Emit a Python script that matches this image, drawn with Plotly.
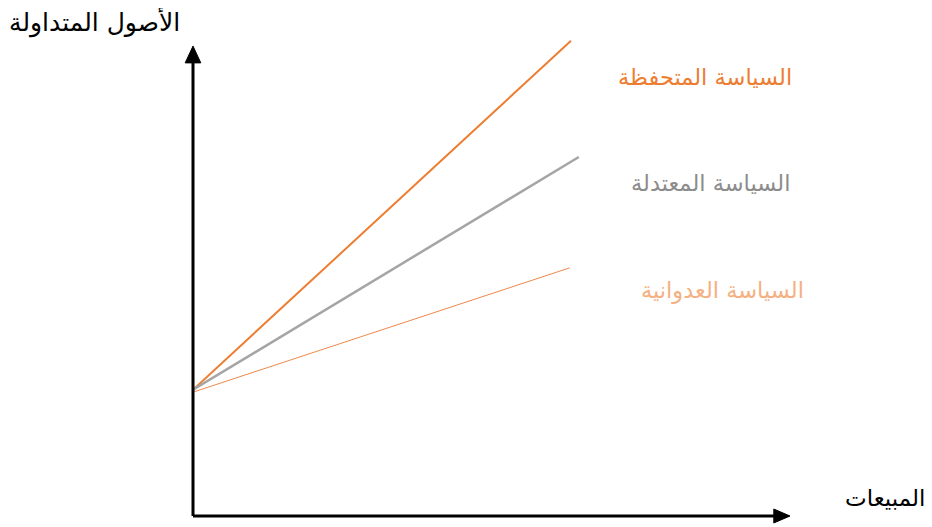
import plotly.graph_objects as go

# Data (arbitrary units)
policies = ["السياسة المتحفظة", "السياسة المعتدلة", "السياسة العدوانية"]
x_start = [0, 0, 0]
y_start = [26.3, 26.3, 25.8]
x_end = [63.0, 64.3, 62.8]
y_end = [99.0, 74.8, 51.7]
line_colors = ["#ED7D31", "#A5A5A5", "#F0884A"]
label_colors = ["#ED7D31", "#8C8C8C", "#F4B183"]
line_widths = [2, 2.5, 1]
label_x = [85.3, 86.2, 88.3]
label_y = [91.5, 69.3, 47.0]

y_title = "الأصول المتداولة"
x_title = "المبيعات"

FONT = "DejaVu Sans, Arial, sans-serif"

fig = go.Figure()
for i in range(3):
    fig.add_trace(go.Scatter(
        x=[x_start[i], x_end[i]], y=[y_start[i], y_end[i]],
        mode="lines", line=dict(color=line_colors[i], width=line_widths[i]),
        showlegend=False, hoverinfo="skip", cliponaxis=False))

# Axes with arrows (paper coordinates)
fig.add_shape(type="line", xref="paper", yref="paper", x0=0, y0=0, x1=0, y1=0.95,
              line=dict(color="black", width=3))
fig.add_shape(type="line", xref="paper", yref="paper", x0=0, y0=0, x1=0.97, y1=0,
              line=dict(color="black", width=3))
fig.add_shape(type="path", xref="paper", yref="paper",
              path="M -0.013 0.944 L 0.013 0.944 L 0 0.979 Z",
              fillcolor="black", line=dict(color="black", width=1))
fig.add_shape(type="path", xref="paper", yref="paper",
              path="M 0.968 -0.0145 L 0.968 0.0145 L 0.995 0 Z",
              fillcolor="black", line=dict(color="black", width=1))

for i in range(3):
    fig.add_annotation(x=label_x[i], y=label_y[i], text=policies[i], showarrow=False,
                       font=dict(family=FONT, size=22.5, color=label_colors[i]),
                       xanchor="center", yanchor="middle")

fig.add_annotation(xref="paper", yref="paper", x=-0.165, y=1.029, text=y_title,
                   showarrow=False, font=dict(family=FONT, size=25, color="black"),
                   xanchor="center", yanchor="middle")
fig.add_annotation(xref="paper", yref="paper", x=1.223, y=0.0375, text=x_title,
                   showarrow=False, font=dict(family=FONT, size=23, color="black"),
                   xanchor="right", yanchor="middle")

fig.update_layout(
    width=924, height=519,
    margin=dict(l=185, r=139, t=28, b=11),
    plot_bgcolor="white", paper_bgcolor="white",
    xaxis=dict(range=[0, 100], visible=False, fixedrange=True),
    yaxis=dict(range=[0, 100], visible=False, fixedrange=True),
)

fig.write_html("out.html")
